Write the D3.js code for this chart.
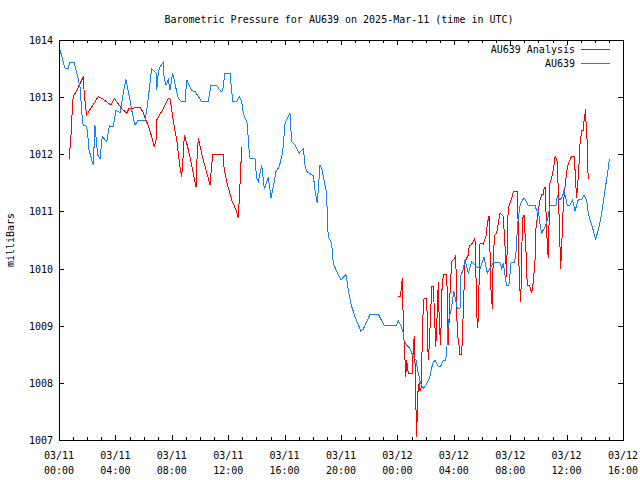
<!DOCTYPE html>
<html>
<head>
<meta charset="utf-8">
<script src="https://cdn.jsdelivr.net/npm/d3@7/dist/d3.min.js"></script>
<style>
  html, body { margin: 0; padding: 0; background: #fff; }
  text { font-family: "DejaVu Sans Mono", "Liberation Mono", monospace; font-size: 10px; fill: #000; }
</style>
</head>
<body>
<svg id="chart" width="640" height="480"></svg>
<script>
// ---------- data (time = hours since 2025-03-11 00:00 UTC, pressure in mb) ----------
const chartTitle = "Barometric Pressure for AU639 on 2025-Mar-11 (time in UTC)";
const yAxisLabel = "milliBars";
const seriesNames = ["AU639 Analysis", "AU639"];

const auHours = [0.07,0.43,0.64,0.78,1.06,1.26,1.49,1.65,1.72,1.89,2.01,2.13,2.32,2.43,2.55,2.67,2.74,2.91,3.07,3.38,3.57,3.85,4.04,4.33,4.56,4.75,4.99,5.16,5.39,5.62,6.10,6.26,6.57,6.88,6.93,7.04,7.16,7.40,7.45,7.59,7.75,7.87,8.06,8.30,8.46,8.70,8.94,9.06,9.41,9.65,10.12,10.59,10.78,11.18,11.47,11.61,11.77,12.13,12.32,12.60,12.79,12.96,13.07,13.35,13.48,13.55,13.90,14.02,14.13,14.38,14.56,14.84,15.04,15.20,15.39,15.62,15.87,16.03,16.19,16.38,16.50,16.74,17.04,17.33,17.45,17.57,18.04,18.16,18.32,18.51,18.63,18.74,18.99,19.03,19.10,19.34,19.45,19.70,20.00,20.35,20.52,20.69,20.99,21.40,21.58,22.06,22.65,23.05,23.95,24.06,24.23,24.42,24.47,24.66,24.89,25.13,25.32,25.48,25.65,25.84,26.08,26.31,26.50,26.67,26.90,27.07,27.26,27.43,27.50,27.61,27.80,28.01,28.16,28.25,28.44,28.51,28.67,28.79,29.03,29.27,29.62,29.86,30.14,30.38,30.57,30.80,31.28,31.40,31.51,31.70,31.75,31.91,32.06,32.29,32.41,32.53,32.70,32.93,33.05,33.28,33.76,33.88,33.99,34.11,34.23,34.47,34.70,34.82,35.25,35.34,35.53,35.72,35.82,36.05,36.24,36.43,36.60,36.83,37.07,37.23,37.43,37.50,37.66,37.89,38.06,38.25,38.49,38.72,38.91,39.03];
const auPressure = [1013.83,1013.50,1013.50,1013.61,1013.61,1013.42,1013.18,1012.63,1012.51,1012.51,1012.42,1012.08,1011.90,1011.81,1012.51,1012.19,1011.99,1011.92,1012.31,1012.22,1012.50,1012.48,1012.77,1012.73,1013.07,1013.31,1013.01,1012.77,1012.51,1012.60,1012.60,1012.83,1013.50,1013.42,1013.12,1013.42,1013.53,1013.61,1013.36,1013.21,1013.30,1013.12,1013.42,1013.15,1012.98,1012.92,1012.92,1013.30,1013.11,1013.10,1012.92,1012.92,1013.21,1013.21,1013.10,1013.11,1013.42,1013.42,1012.92,1012.92,1013.01,1012.92,1012.72,1012.54,1012.08,1011.92,1011.92,1011.58,1011.52,1011.81,1011.40,1011.60,1011.23,1011.43,1011.70,1011.78,1012.05,1012.54,1012.63,1012.72,1012.22,1012.16,1012.02,1012.10,1011.81,1011.70,1011.62,1011.37,1011.14,1011.81,1011.75,1011.61,1011.32,1010.82,1010.56,1010.44,1010.09,1009.95,1009.80,1009.90,1009.63,1009.39,1009.16,1008.91,1008.94,1009.20,1009.20,1009.01,1009.01,1009.09,1009.01,1008.87,1008.75,1008.66,1008.60,1008.46,1008.40,1008.17,1007.99,1007.90,1007.98,1008.11,1008.34,1008.40,1008.29,1008.29,1008.40,1008.40,1008.57,1009.07,1009.27,1009.60,1009.42,1009.30,1009.30,1009.89,1009.98,1010.15,1009.92,1010.12,1010.03,1010.00,1010.20,1009.92,1010.00,1010.10,1010.10,1010.00,1010.10,1009.77,1009.71,1009.71,1010.10,1010.10,1010.27,1010.79,1011.11,1011.22,1011.22,1011.11,1011.11,1011.01,1011.02,1010.79,1010.62,1010.73,1010.91,1011.11,1011.11,1011.27,1011.20,1011.27,1011.37,1011.11,1011.11,1011.20,1011.01,1011.21,1011.21,1011.29,1011.20,1011.02,1010.85,1010.67,1010.52,1010.67,1010.97,1011.37,1011.67,1011.91];

const analysisHoursA = [0.73,0.78,0.90,0.94,1.01,1.26,1.49,1.72,1.79,1.89,1.96,2.32,2.79,3.03,3.38,3.69,3.92,4.09,4.45,4.80,4.96,5.74,5.94,6.10,6.33,6.57,6.76,6.88,6.93,7.28,7.75,7.87,8.06,8.18,8.35,8.46,8.58,8.70,8.82,8.89,9.06,9.29,9.52,9.72,9.77,9.88,10.23,10.59,10.71,10.83,10.90,11.65,11.70,11.89,12.25,12.60,12.72,12.84,12.96];
const analysisPressureA = [1011.91,1012.10,1012.48,1012.83,1013.01,1013.12,1013.24,1013.35,1013.07,1012.83,1012.69,1012.83,1013.01,1012.98,1012.92,1012.86,1012.98,1012.92,1012.80,1012.72,1012.80,1012.82,1012.75,1012.63,1012.51,1012.31,1012.13,1012.25,1012.60,1012.75,1012.98,1012.98,1012.66,1012.48,1012.25,1012.02,1011.78,1011.61,1012.02,1012.34,1012.19,1011.96,1011.67,1011.43,1011.84,1012.28,1011.90,1011.58,1011.46,1011.81,1011.99,1011.99,1011.78,1011.52,1011.20,1011.00,1010.88,1011.49,1012.13];

const analysisHoursB = [24.06,24.23,24.30,24.35,24.38,24.42,24.54,24.59,24.66,24.77,24.89,25.06,25.13,25.20,25.25,25.32,25.37,25.41,25.48,25.55,25.60,25.67,25.72,25.79,25.89,26.08,26.15,26.19,26.26,26.36,26.43,26.55,26.62,26.72,26.79,26.90,26.97,27.07,27.14,27.26,27.50,27.61,27.73,27.85,28.04,28.14,28.21,28.25,28.33,28.44,28.56,28.67,28.79,29.03,29.10,29.22,29.38,29.50,29.57,29.62,29.70,29.74,29.86,30.09,30.28,30.38,30.50,30.64,30.73,30.80,30.92,31.04,31.16,31.28,31.51,31.63,31.75,31.79,31.86,31.98,32.11,32.22,32.51,32.65,32.75,32.82,32.89,32.98,33.12,33.21,33.36,33.45,33.52,33.64,33.76,33.83,33.99,34.11,34.23,34.35,34.40,34.47,34.59,34.63,34.70,34.82,34.94,35.06,35.18,35.25,35.34,35.41,35.53,35.58,35.65,35.77,35.89,36.01,36.12,36.24,36.36,36.55,36.60,36.67,36.72,36.77,36.86,36.91,37.01,37.08,37.19,37.23,37.30,37.35,37.38,37.47,37.50,37.54];
const analysisPressureB = [1009.52,1009.52,1009.74,1009.83,1009.51,1008.98,1008.40,1008.11,1008.40,1008.17,1008.16,1008.16,1008.63,1008.82,1008.34,1007.52,1007.06,1007.52,1007.96,1007.99,1007.87,1007.87,1008.22,1009.07,1009.48,1009.48,1008.69,1008.40,1008.66,1009.22,1009.69,1009.69,1009.27,1008.63,1009.01,1009.77,1009.04,1008.66,1009.57,1009.90,1009.90,1008.66,1009.57,1010.12,1010.18,1010.22,1009.27,1008.84,1008.75,1008.49,1008.49,1009.22,1010.12,1010.24,1010.41,1010.41,1010.47,1010.53,1009.92,1009.22,1008.96,1009.22,1010.44,1010.43,1010.56,1010.79,1010.92,1009.63,1009.30,1010.27,1010.59,1010.62,1010.79,1010.97,1010.92,1010.41,1009.86,1010.50,1011.05,1011.14,1011.23,1011.35,1011.35,1009.77,1009.42,1010.33,1010.88,1010.94,1010.30,1009.71,1009.71,1009.63,1009.57,1009.77,1010.15,1010.70,1011.02,1011.20,1011.29,1011.29,1011.39,1011.43,1010.67,1010.41,1010.18,1011.49,1011.58,1011.73,1011.96,1011.93,1011.87,1011.37,1010.41,1010.00,1010.38,1011.14,1011.43,1011.70,1011.83,1011.90,1011.97,1011.97,1011.72,1011.40,1011.23,1011.46,1011.67,1012.08,1012.31,1012.41,1012.41,1012.57,1012.69,1012.79,1012.54,1012.19,1011.78,1011.56];

const yTickValues = [1007, 1008, 1009, 1010, 1011, 1012, 1013, 1014];
const xTickHours = [0, 4, 8, 12, 16, 20, 24, 28, 32, 36, 40];
const xTickDates = ["03/11","03/11","03/11","03/11","03/11","03/11","03/12","03/12","03/12","03/12","03/12"];
const xTickTimes = ["00:00","04:00","08:00","12:00","16:00","20:00","00:00","04:00","08:00","12:00","16:00"];

// ---------- drawing ----------
const startMs = Date.UTC(2025, 2, 11, 0, 0);
const toDate = h => new Date(startMs + h * 3600e3);
const zip = (ts, vs) => ts.map((t, i) => ({ t: toDate(t), v: vs[i] }));

const pLeft = 59, pRight = 623, pTop = 40, pBottom = 440;
const svg = d3.select("#chart");

const x = d3.scaleUtc().domain([toDate(0), toDate(40)]).range([pLeft, pRight]);
const y = d3.scaleLinear().domain([1007, 1014]).range([pBottom, pTop]);

const line = d3.line().x(d => x(d.t)).y(d => y(d.v));

const series = [
  { name: seriesNames[0], color: "#ff0000", parts: [zip(analysisHoursA, analysisPressureA), zip(analysisHoursB, analysisPressureB)] },
  { name: seriesNames[1], color: "#1482f0", parts: [zip(auHours, auPressure)] }
];

const plot = svg.append("g");
series.forEach(s => {
  s.parts.forEach(p => {
    plot.append("path")
      .datum(p)
      .attr("fill", "none")
      .attr("stroke", s.color)
      .attr("stroke-width", 1)
      .attr("shape-rendering", "crispEdges")
      .attr("d", line);
  });
});

const majorX = xTickHours.map(toDate);
const minorX = d3.range(0, 41).filter(h => h % 4 !== 0).map(toDate);

function styleAxis(g) {
  g.select(".domain").remove();
  g.selectAll("line").attr("stroke", "#000").attr("shape-rendering", "crispEdges");
  g.selectAll("text").remove();
}

svg.append("g").attr("transform", `translate(0,${pBottom})`)
  .call(d3.axisBottom(x).tickValues(majorX).tickSize(-5)).call(styleAxis);
svg.append("g").attr("transform", `translate(0,${pBottom})`)
  .call(d3.axisBottom(x).tickValues(minorX).tickSize(-3)).call(styleAxis);
svg.append("g").attr("transform", `translate(0,${pTop})`)
  .call(d3.axisTop(x).tickValues(majorX).tickSize(-5)).call(styleAxis);
svg.append("g").attr("transform", `translate(0,${pTop})`)
  .call(d3.axisTop(x).tickValues(minorX).tickSize(-3)).call(styleAxis);
svg.append("g").attr("transform", `translate(${pLeft},0)`)
  .call(d3.axisLeft(y).tickValues(yTickValues).tickSize(-5)).call(styleAxis);
svg.append("g").attr("transform", `translate(${pRight},0)`)
  .call(d3.axisRight(y).tickValues(yTickValues).tickSize(-5)).call(styleAxis);

svg.append("rect")
  .attr("x", pLeft).attr("y", pTop)
  .attr("width", pRight - pLeft).attr("height", pBottom - pTop)
  .attr("fill", "none").attr("stroke", "#000").attr("stroke-width", 1)
  .attr("shape-rendering", "crispEdges");

svg.append("g").selectAll("text").data(yTickValues).join("text")
  .attr("x", pLeft - 6).attr("y", d => y(d) + 4)
  .attr("text-anchor", "end")
  .text(d => d);

const xl = svg.append("g").selectAll("g").data(xTickHours).join("g");
xl.append("text").attr("x", d => x(toDate(d))).attr("y", 459).attr("text-anchor", "middle")
  .text((d, i) => xTickDates[i]);
xl.append("text").attr("x", d => x(toDate(d))).attr("y", 474).attr("text-anchor", "middle")
  .text((d, i) => xTickTimes[i]);

svg.append("text").attr("x", 339).attr("y", 23).attr("text-anchor", "middle").text(chartTitle);

svg.append("text")
  .attr("transform", "translate(14,240) rotate(-90)")
  .attr("text-anchor", "middle")
  .text(yAxisLabel);

const legend = svg.append("g");
series.forEach((s, i) => {
  const ly = 49 + i * 14;
  legend.append("text").attr("x", 575).attr("y", ly + 4).attr("text-anchor", "end").text(s.name);
  legend.append("line").attr("x1", 581).attr("x2", 610).attr("y1", ly).attr("y2", ly)
    .attr("stroke", s.color).attr("stroke-width", 1).attr("shape-rendering", "crispEdges");
});
</script>
</body>
</html>
